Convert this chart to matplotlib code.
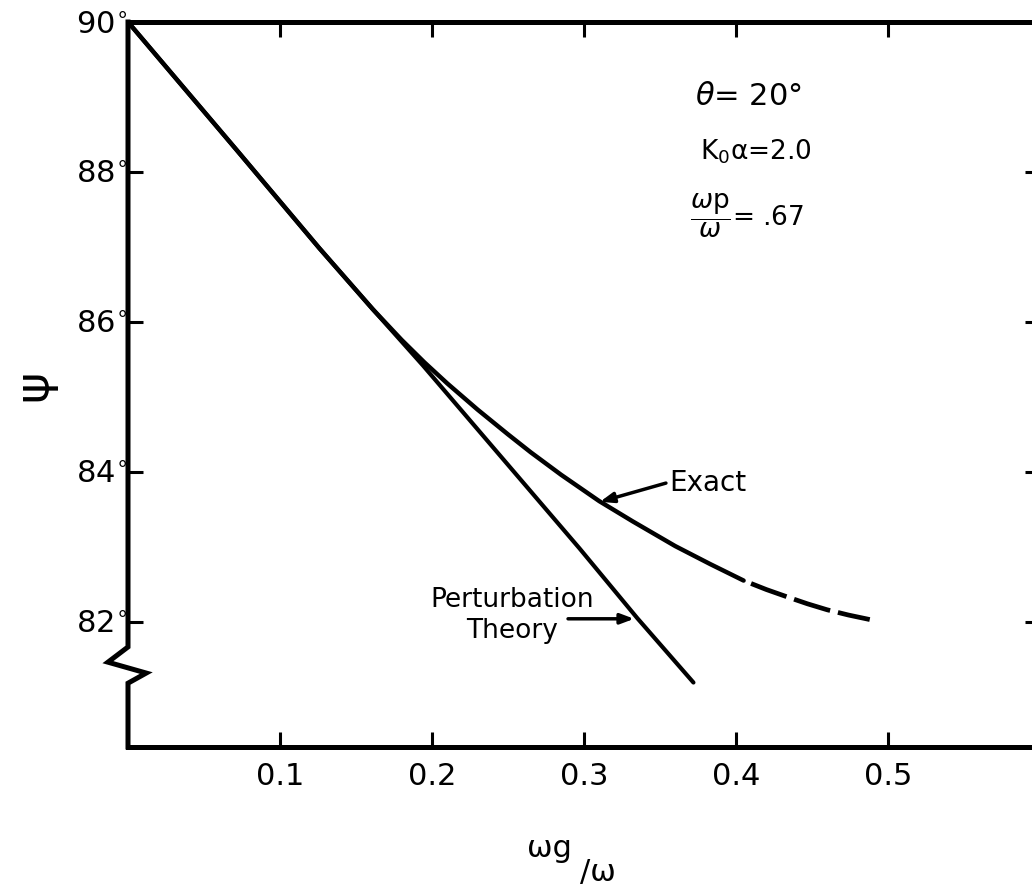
import matplotlib.pyplot as plt
from matplotlib.lines import Line2D

#Data-------------------------------
# x = omega_g / omega, y = psi in degrees
perturbX = [0.0, 0.072, 0.126, 0.161, 0.194, 0.297, 0.335, 0.372]
perturbY = [90.0, 88.28, 86.98, 86.17, 85.42, 82.98, 82.05, 81.19]

exactX = [0.0, 0.072, 0.126, 0.161, 0.18, 0.195, 0.21, 0.23, 0.25, 0.265,
          0.285, 0.31, 0.332, 0.36, 0.383, 0.405]
exactY = [90.0, 88.28, 86.98, 86.17, 85.76, 85.46, 85.18, 84.83, 84.50, 84.26,
          83.96, 83.61, 83.34, 83.01, 82.77, 82.55]
# the end of the exact curve is drawn dashed
exactDashX = [0.405, 0.42, 0.434, 0.447, 0.46, 0.474, 0.488]
exactDashY = [82.55, 82.43, 82.33, 82.24, 82.16, 82.09, 82.03]

xTicks = [0.1, 0.2, 0.3, 0.4, 0.5]
xTickLabels = ["0.1", "0.2", "0.3", "0.4", "0.5"]
yTicks = [82, 84, 86, 88, 90]
yTickLabels = [r"$%d^{\circ}$" % v for v in yTicks]
#-----------------------------------

W, H = 1032, 893
plt.rcParams["font.family"] = ["DejaVu Sans"]
plt.rcParams["mathtext.fontset"] = "dejavusans"

fig = plt.figure(figsize=(W / 100, H / 100), dpi=100)
ax = fig.add_axes([128 / W, 146 / H, 912 / W, 725 / H])

#Curves-----------------------------
ax.plot(perturbX, perturbY, color="k", lw=3.0, solid_capstyle="round",
        solid_joinstyle="round")
ax.plot(exactX, exactY, color="k", lw=3.2, solid_capstyle="round",
        solid_joinstyle="round")
ax.plot(exactDashX, exactDashY, color="k", lw=3.4,
        linestyle=(8.0, (8.0, 1.7)), dash_capstyle="butt")

#Axes-------------------------------
ax.set_xlim(0, 0.6)
ax.set_ylim(80.33, 90)
ax.set_xticks(xTicks)
ax.set_xticklabels(xTickLabels)
ax.set_yticks(yTicks)
ax.set_yticklabels(yTickLabels)
ax.tick_params(direction="in", length=10.5, width=2.2, top=True, right=True,
               labelsize=22, color="k")
ax.tick_params(axis="x", pad=11)
ax.tick_params(axis="y", pad=1)

for side in ["top", "bottom", "right"]:
    ax.spines[side].set_linewidth(3.6)
ax.spines["left"].set_visible(False)

# left spine with the break mark below 82 deg
brk = Line2D([0, 0, 0, -0.022, 0.020, 0, 0],
             [1.0, 0.138, 0.138, 0.117, 0.102, 0.088, 0.0],
             transform=ax.transAxes, color="k", lw=3.6, clip_on=False,
             solid_joinstyle="miter")
ax.add_line(brk)

#Labels-----------------------------
fig.text(34 / W, 1 - 385 / H, "ψ", fontsize=34, rotation=90,
         ha="center", va="center")
fig.text(527 / W, 1 - 857 / H, "ωg", fontsize=22, va="baseline")
fig.text(580 / W, 1 - 881 / H, "/ω", fontsize=22, va="baseline")

ax.text(0.373, 89.0, r"$\theta$= 20°", fontsize=22, va="center")
ax.text(0.376, 88.27, "K$_0$α=2.0", fontsize=19, va="center")
ax.text(0.37, 87.41, r"$\dfrac{\omega\mathrm{p}}{\omega}$= .67", fontsize=19,
        va="center")

arrow = dict(arrowstyle="-|>,head_length=0.8,head_width=0.3", color="k",
             lw=2.5, shrinkA=0, shrinkB=0)
ax.annotate("", xy=(0.3105, 83.6), xytext=(0.3539, 83.85), arrowprops=arrow)
ax.text(0.356, 83.85, "Exact", fontsize=20, va="center")

ax.annotate("", xy=(0.333, 82.04), xytext=(0.2895, 82.04), arrowprops=arrow)
ax.text(0.2526, 82.09, "Perturbation\nTheory", fontsize=19, ha="center",
        va="center", linespacing=1.25)

plt.savefig("out.png", dpi=100)
